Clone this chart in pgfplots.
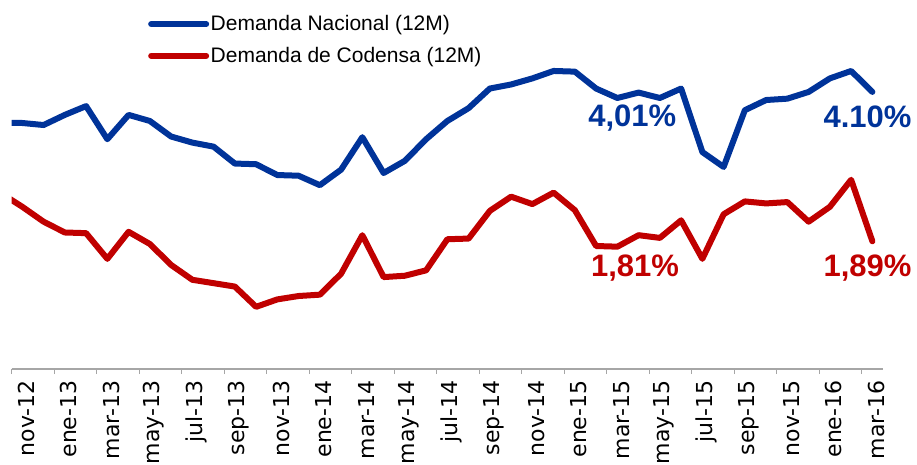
\documentclass[border=0pt]{standalone}
\usepackage{pgfplots}
\pgfplotsset{compat=1.18}
\usepackage{pgfplotstable}
\usepackage{fontspec}
\setmainfont{Liberation Sans}
\newfontfamily\dejavu{DejaVu Sans}
\definecolor{nacblue}{RGB}{0,51,153}
\definecolor{codred}{RGB}{192,0,0}
\definecolor{axgray}{RGB}{166,166,166}

% demanda 12M (%), indice 0 = nov-12
\pgfplotstableread{
m   nac   cod
-1  3.64  2.60
0   3.64  2.40
1   3.61  2.18
2   3.76  2.02
3   3.89  2.01
4   3.40  1.63
5   3.76  2.03
6   3.67  1.85
7   3.44  1.54
8   3.35  1.32
9   3.29  1.27
10  3.04  1.22
11  3.03  0.92
12  2.87  1.03
13  2.86  1.08
14  2.72  1.10
15  2.95  1.41
16  3.43  1.98
17  2.90  1.36
18  3.08  1.38
19  3.40  1.46
20  3.67  1.92
21  3.86  1.93
22  4.15  2.34
23  4.21  2.55
24  4.30  2.44
25  4.41  2.61
26  4.40  2.35
27  4.15  1.82
28  4.01  1.81
29  4.09  1.98
30  4.01  1.94
31  4.15  2.20
32  3.21  1.63
33  2.99  2.29
34  3.83  2.48
35  3.98  2.45
36  4.00  2.47
37  4.10  2.18
38  4.30  2.40
39  4.41  2.80
40  4.10  1.89
}\demanda

\begin{document}
\begin{tikzpicture}
\useasboundingbox (-11.7pt,-95pt) rectangle (905.3pt,369pt);
\begin{axis}[
    scale only axis,
    width=871.3pt, height=369pt,
    xmin=-0.5, xmax=40.5,
    ymin=0, ymax=5.46,
    enlargelimits=false,
    clip mode=individual,
    hide y axis,
    axis x line*=bottom,
    x axis line style={axgray, line width=1.2pt},
    xtick={0,2,...,40},
    xticklabels={nov-12,ene-13,mar-13,may-13,jul-13,sep-13,nov-13,ene-14,mar-14,may-14,jul-14,sep-14,nov-14,ene-15,mar-15,may-15,jul-15,sep-15,nov-15,ene-16,mar-16},
    major tick length=0pt,
    minor xtick={-0.5,1.5,...,39.5},
    minor tick length=5pt,
    tick align=outside,
    minor tick style={axgray, line width=1.2pt},
    xticklabel style={font=\dejavu\fontsize{22}{24}\selectfont, rotate=90, anchor=east, xshift=-8pt, yshift=-4pt},
    legend style={at={(0.1564,0.962)}, anchor=north west, draw=none, fill=none,
        font=\fontsize{21}{25}\selectfont, inner sep=0pt, row sep=12pt,
        nodes={inner sep=1.5pt}},
    legend cell align=left,
    legend image code/.code={\draw[#1, line cap=round] (0pt,0pt) -- (55pt,0pt);},
]
\addplot[nacblue, line width=6pt, line join=round, line cap=round] table[x=m, y=nac] {\demanda};
\addlegendentry{Demanda Nacional (12M)}
\addplot[codred, line width=6pt, line join=round, line cap=round] table[x=m, y=cod] {\demanda};
\addlegendentry{Demanda de Codensa (12M)}
\node[font=\bfseries\fontsize{31}{31}\selectfont, text=nacblue] at (axis cs:28.7,3.71) {4,01\%};
\node[font=\bfseries\fontsize{31}{31}\selectfont, text=nacblue] at (axis cs:39.77,3.737) {4.10\%};
\node[font=\bfseries\fontsize{31}{31}\selectfont, text=codred] at (axis cs:28.83,1.50) {1,81\%};
\node[font=\bfseries\fontsize{31}{31}\selectfont, text=codred] at (axis cs:39.77,1.50) {1,89\%};
\end{axis}
\end{tikzpicture}
\end{document}
